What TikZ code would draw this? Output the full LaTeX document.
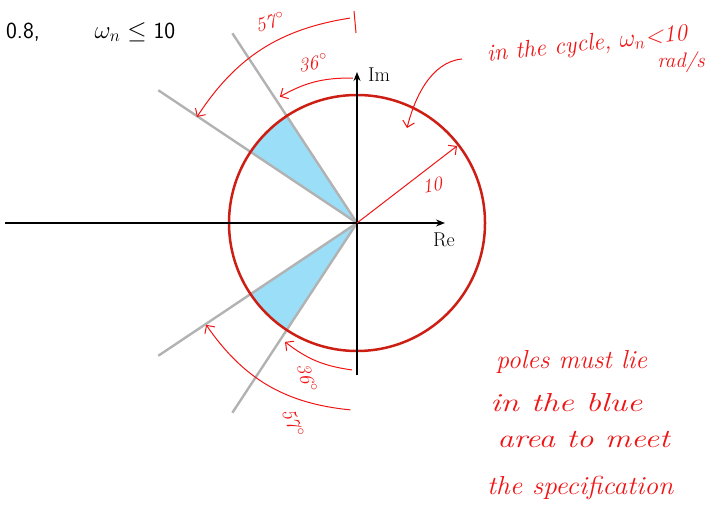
\documentclass[tikz,border=0pt]{standalone}
\usepackage{tikz}
\usetikzlibrary{arrows.meta,calc}
\definecolor{circred}{RGB}{205,30,20}
\definecolor{hand}{RGB}{240,20,20}
\definecolor{wedge}{RGB}{155,222,248}
\definecolor{raygray}{RGB}{178,178,178}
\tikzset{
  axisline/.style={line width=1.4pt, -{Stealth[length=9pt,width=7pt]}},
  rayline/.style={raygray, line width=2.4pt},
  annot/.style={hand, line width=1pt},
  barb/.style={-{Straight Barb[length=6pt,width=12pt]}},
  handtext/.style={hand, font=\fontsize{26}{30}\selectfont\itshape, inner sep=0pt},
  notetext/.style={hand, font=\fontsize{24}{28}\selectfont\itshape, inner sep=0pt},
  angtext/.style={hand, font=\fontsize{20}{24}\selectfont\itshape, inner sep=0pt},
  axlabel/.style={font=\fontsize{20}{24}\selectfont, inner sep=0pt},
}
\newcommand{\degmark}{\kern2pt$^{\circ}$}
\begin{document}
\begin{tikzpicture}[x=1pt,y=1pt]
\useasboundingbox (0,0) rectangle (708,514);
\coordinate (O) at (357,291);
\begin{scope}[shift={(O)}]
  % blue wedges
  \fill[wedge] (0,0) -- (123.3:128) arc[start angle=123.3,end angle=146.25,radius=128] -- cycle;
  \fill[wedge] (0,0) -- (-123.3:128) arc[start angle=-123.3,end angle=-146.25,radius=128] -- cycle;
  % rays
  \coordinate (r1) at (123.3:227);
  \coordinate (r2) at (146.25:239);
  \coordinate (r3) at (-123.3:227);
  \coordinate (r4) at (-146.25:239);
  % arc end points
  \coordinate (a57s) at (92:205);
  \coordinate (a57e) at (146.5:192);
  \coordinate (a36s) at (91.6:145);
  \coordinate (a36e) at (121.4:148);
  \coordinate (b36s) at (268:147);
  \coordinate (b36e) at (238.8:139);
  \coordinate (b57s) at (268:187);
  \coordinate (b57e) at (214:182);
\end{scope}
\draw[rayline] (O) -- (r1);
\draw[rayline] (O) -- (r2);
\draw[rayline] (O) -- (r3);
\draw[rayline] (O) -- (r4);
% circle
\draw[circred, line width=2.5pt] (O) circle[radius=128];
% axes
\coordinate (xl) at (5,291);
\coordinate (xr) at (445,291);
\coordinate (yb) at (357,139);
\coordinate (yt) at (357,442);
\draw[axisline] (xl) -- (xr);
\draw[axisline] (yb) -- (yt);
\node[axlabel] (im) at (379,439) {Im};
\node[axlabel] (re) at (444,274) {Re};
% radius arrow
\coordinate (rtip) at (457,368);
\draw[annot, barb] (O) -- (rtip);
\node[angtext, rotate=10] (ten) at (432,329) {10};
% angle arcs
\coordinate (tk1) at (354,503);
\coordinate (tk2) at (356,481);
\draw[annot] (tk1) -- (tk2);
\draw[annot, barb] (a57s) to[bend right=24] (a57e);
\draw[annot, barb] (a36s) to[bend right=15] (a36e);
\draw[annot, barb] (b36s) to[bend left=15] (b36e);
\draw[annot, barb] (b57s) to[bend left=25] (b57e);
\node[angtext, rotate=15] (l57a) at (270,492) {57\degmark};
\node[angtext, rotate=10] (l36a) at (313,451) {36\degmark};
\node[angtext, rotate=-75] (l36b) at (307,136) {36\degmark};
\node[angtext, rotate=-70] (l57b) at (293,91) {57\degmark};
% header
\node[font=\fontsize{23}{27}\selectfont\sffamily, inner sep=0pt] (zeta) at (23,482) {0.8,};
\node[font=\fontsize{23}{27}\selectfont, inner sep=0pt] (wn) at (135,482) {$\omega_n \leq$ \textsf{10}};
% circle note
\node[notetext, rotate=6] (note1) at (587,469) {in the cycle, $\omega_n$<10};
\node[notetext, font=\fontsize{21}{24}\selectfont\itshape] (note2) at (681,452) {rad/s};
\coordinate (ns) at (462,455);
\coordinate (ne) at (407,386);
\draw[annot, barb] (ns) .. controls (430,452) and (414,414) .. (ne);
% poles note
\node[handtext, anchor=west] (p1) at (496,152) {poles must lie};
\node[handtext, anchor=west, xscale=1.3] (p2) at (490,111) {in the blue};
\node[handtext, anchor=west, xscale=1.26] (p3) at (497,74) {area to meet};
\node[handtext, anchor=west, xscale=1.06] (p4) at (487,26) {the specification};
\end{tikzpicture}
\end{document}
